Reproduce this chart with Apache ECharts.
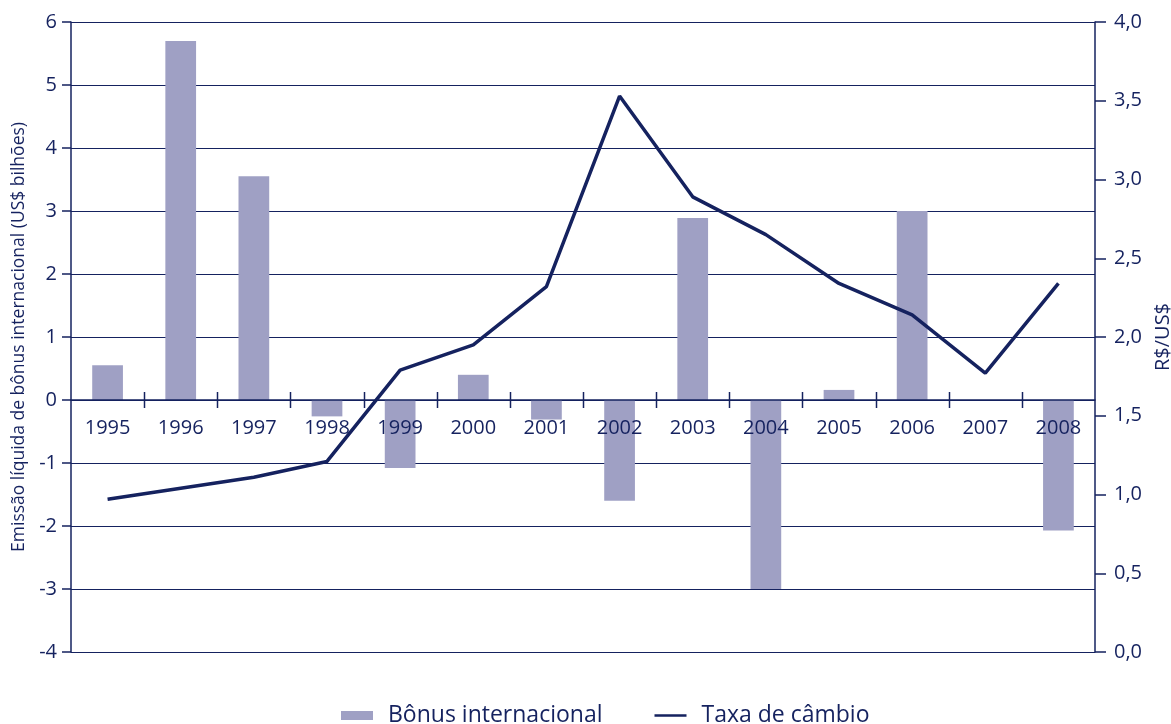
<!DOCTYPE html>
<html>
<head>
	<meta charset="utf-8">
	<title>Bônus internacional e taxa de câmbio</title>
	<script src="https://cdn.jsdelivr.net/npm/echarts@6/dist/echarts.min.js"></script>
	<style>body{margin:0;background:#fff;}</style>
</head>
<body>
	<div id="container" style="width:1171px;height:724px;"></div>
	<script type="text/javascript">
	var anos = ['1995','1996','1997','1998','1999','2000','2001','2002','2003','2004','2005','2006','2007','2008'];
	var bonus = [0.55, 5.7, 3.55, -0.26, -1.08, 0.4, -0.31, -1.6, 2.89, -3.0, 0.16, 3.0, 0, -2.07];
	var cambio = [0.97, 1.04, 1.11, 1.21, 1.79, 1.95, 2.32, 3.53, 2.89, 2.65, 2.34, 2.14, 1.77, 2.34];

	var azul = '#15225f';
	var fonte = '"Open Sans", "Noto Sans", sans-serif';

	// rotulos dos anos ficam sobre a linha do zero
	var rotulos = [];
	for (var i = 0; i < anos.length; i++) rotulos.push([anos[i], 0]);
	// marcas entre anos, cruzando a linha do zero
	var divisas = [];
	for (var j = 0; j < anos.length - 1; j++) divisas.push([j, 0]);

	function marcaDivisa(params, api) {
		var a = api.coord([api.value(0), 0]);
		var b = api.coord([api.value(0) + 1, 0]);
		var x = Math.round((a[0] + b[0]) / 2) + 0.5;
		return {
			type: 'line',
			shape: { x1: x, y1: a[1] - 8, x2: x, y2: a[1] + 8 },
			style: { stroke: azul, lineWidth: 1.5 }
		};
	}

	var myChart = echarts.init(document.getElementById('container'));
	myChart.setOption({
		animation: false,
		textStyle: { fontFamily: fonte, color: azul },
		grid: { left: 71, right: 76, top: 22, bottom: 72, containLabel: false, outerBoundsMode: 'none' },
		legend: {
			left: 336,
			bottom: -8,
			itemGap: 52,
			itemWidth: 32,
			itemHeight: 9,
			textStyle: { fontSize: 23, color: azul, fontFamily: fonte, padding: [0, 0, 0, 10] },
			data: [
				{ name: 'Bônus internacional', icon: 'rect' },
				{ name: 'Taxa de câmbio', icon: 'path://M0,0L0,0ZM0,3.3L32,3.3L32,5.7L0,5.7ZM0,9L0,9Z' }
			]
		},
		xAxis: {
			type: 'category',
			data: anos,
			axisLine: { onZero: true, onZeroAxisIndex: 0, lineStyle: { color: azul, width: 1.5 } },
			axisTick: { show: false },
			axisLabel: { show: false },
			z: 10
		},
		yAxis: [
			{
				type: 'value',
				min: -4,
				max: 6,
				interval: 1,
				name: 'Emissão líquida de bônus internacional (US$ bilhões)',
				nameLocation: 'middle',
				nameRotate: 90,
				nameGap: 43,
				nameTextStyle: { fontSize: 17.5, color: azul, fontFamily: fonte },
				axisLine: { show: true, lineStyle: { color: azul, width: 1.5 } },
				axisTick: { show: true, length: 9, lineStyle: { color: azul, width: 1.5 } },
				axisLabel: { fontSize: 20, color: azul, margin: 14, fontFamily: fonte },
				splitLine: { show: true, lineStyle: { color: azul, width: 1 } }
			},
			{
				type: 'value',
				min: 0,
				max: 4,
				interval: 0.5,
				position: 'right',
				name: 'R$/US$',
				nameLocation: 'middle',
				nameRotate: 90,
				nameGap: 57,
				nameTextStyle: { fontSize: 20, color: azul, fontFamily: fonte },
				axisLine: { show: true, lineStyle: { color: azul, width: 1.5 } },
				axisTick: { show: true, length: 11, lineStyle: { color: azul, width: 1.5 } },
				axisLabel: {
					fontSize: 20, color: azul, margin: 19, fontFamily: fonte,
					formatter: function (v) { return v.toFixed(1).replace('.', ','); }
				},
				splitLine: { show: false }
			}
		],
		series: [
			{
				name: 'Bônus internacional',
				type: 'bar',
				data: bonus,
				barWidth: '42%',
				itemStyle: { color: '#9fa0c4' },
				yAxisIndex: 0,
				z: 1
			},
			{
				name: 'Taxa de câmbio',
				type: 'line',
				data: cambio,
				yAxisIndex: 1,
				symbol: 'none',
				lineStyle: { color: azul, width: 3.5 },
				itemStyle: { color: azul },
				z: 5
			},
			{
				name: 'divisas',
				type: 'custom',
				data: divisas,
				yAxisIndex: 0,
				silent: true,
				renderItem: marcaDivisa,
				z: 9
			},
			{
				name: 'anos',
				type: 'scatter',
				data: rotulos,
				yAxisIndex: 0,
				symbolSize: 0,
				silent: true,
				itemStyle: { opacity: 1, color: azul },
				label: {
					show: true,
					position: 'bottom',
					distance: 18,
					fontSize: 20,
					color: azul,
					fontFamily: fonte,
					formatter: function (p) { return anos[p.dataIndex]; }
				},
				z: 8
			}
		]
	});
	</script>
</body>
</html>
